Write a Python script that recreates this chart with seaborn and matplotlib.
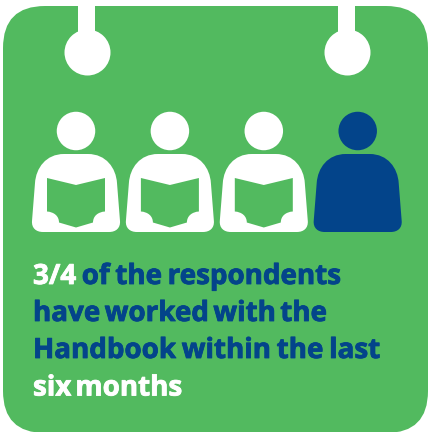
import numpy as np
import pandas as pd
import matplotlib.pyplot as plt
import matplotlib.patheffects as pe
from matplotlib.patches import FancyBboxPatch, PathPatch, Rectangle
from matplotlib.path import Path
from matplotlib.transforms import Affine2D
import seaborn as sns

# data
respondents = ["r1", "r2", "r3", "r4"]
worked_recently = [True, True, True, False]
line_words = [["3/4", "of", "the", "respondents"],
              ["have", "worked", "with", "the"],
              ["Handbook", "within", "the", "last"],
              ["six", "months"]]
line_colors = [["w", "b", "b", "b"], ["b"] * 4, ["b"] * 4, ["w", "w"]]
line_right = [341, 327, 380, 182]  # right edge of each line in the picture

GREEN = "#52BA5F"
BLUE = "#03448A"
WHITE = "#FFFFFF"

sns.set_theme(style="white")
plt.rcParams["font.family"] = ["Open Sans", "DejaVu Sans"]

W, H = 428, 432
fig = plt.figure(figsize=(W / 100, H / 100), dpi=100, facecolor=WHITE)
ax = fig.add_axes([0, 0, 1, 1])
ax.set_xlim(0, W)
ax.set_ylim(H, 0)  # pixel style coordinates, y goes down
ax.axis("off")

# calendar card
ax.add_patch(FancyBboxPatch((45, 48), 341, 343, boxstyle="round,pad=42,rounding_size=42",
                            fc=GREEN, ec="none", zorder=1))

# binder rings
rings = pd.DataFrame({"x": [87, 347], "y": [52, 52]})
for x in rings["x"]:
    ax.add_patch(Rectangle((x - 8.5, 0), 17, 40, fc=WHITE, ec="none", zorder=2))
sns.scatterplot(data=rings, x="x", y="y", ax=ax, s=(46 * 0.72) ** 2, color=WHITE,
                linewidth=0, legend=False, zorder=2)

# people
people = pd.DataFrame({"respondent": respondents, "worked": worked_recently})
people["x"] = 76 + 93.9 * np.arange(len(people))
people["y"] = 131
sns.scatterplot(data=people, x="x", y="y", hue="worked", palette={True: WHITE, False: BLUE},
                ax=ax, s=(38.5 * 0.72) ** 2, linewidth=0, legend=False, zorder=3)

C, L, M = Path.CURVE4, Path.LINETO, Path.MOVETO
body = Path(
    [(-12, 154), (-30, 154), (-40, 168), (-41, 183), (-44, 221),
     (-44.5, 228), (-40, 232), (-33, 232), (33, 232),
     (40, 232), (44.5, 228), (44, 221), (41, 183),
     (40, 168), (30, 154), (12, 154), (-12, 154)],
    [M, C, C, C, L, C, C, C, L, C, C, C, L, C, C, C, L],
)
book = Path(
    [(-29, 178), (0, 185), (29, 178), (29, 211.5),
     (22, 212), (17, 216), (17, 222.5), (0, 227.5), (-17, 222.5),
     (-17, 216), (-22, 212), (-29, 211.5), (-29, 178)],
    [M, L, L, L, C, C, C, L, L, C, C, C, L],
)

for x, worked in zip(people["x"], people["worked"]):
    shift = Affine2D().translate(x, 0) + ax.transData
    ax.add_patch(PathPatch(body, fc=WHITE if worked else BLUE, ec="none",
                           transform=shift, zorder=3))
    if worked:
        ax.add_patch(PathPatch(book, fc=GREEN, ec="none", transform=shift, zorder=4))

# caption, word by word so the word gaps stay as tight as in the picture
fs = 20
renderer = fig.canvas.get_renderer()
baselines = [284, 321, 358, 395.5]
for words, cols, right, y in zip(line_words, line_colors, line_right, baselines):
    texts = []
    for w, c in zip(words, cols):
        col = WHITE if c == "w" else BLUE
        t = ax.text(0, y, w, color=col, fontsize=fs, fontweight="bold",
                    va="baseline", ha="left", zorder=5)
        t.set_path_effects([pe.withStroke(linewidth=0.6, foreground=col)])
        texts.append(t)
    widths = [t.get_window_extent(renderer).width for t in texts]
    gap = (right - 33 - sum(widths)) / (len(words) - 1)
    x = 33
    for t, w in zip(texts, widths):
        t.set_x(x)
        x += w + gap

fig.savefig("out.png", dpi=100, facecolor=WHITE)
